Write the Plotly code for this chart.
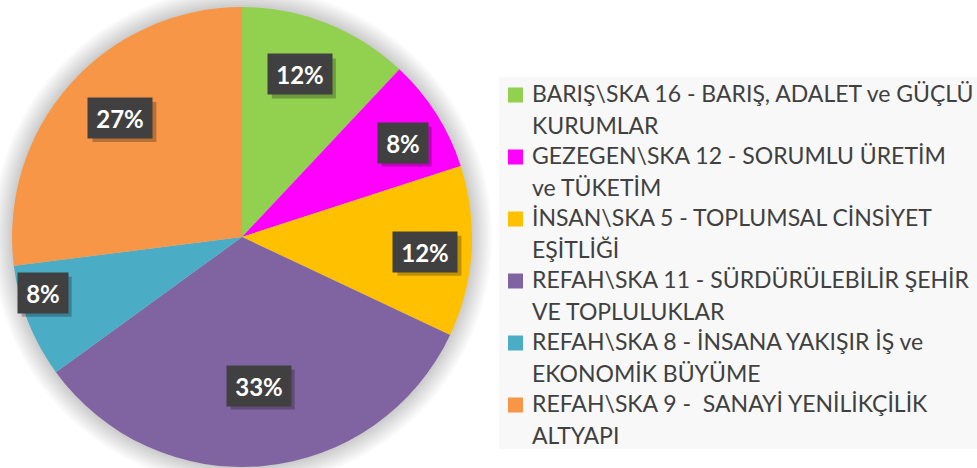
import math
import plotly.graph_objects as go

# ---- data ----
categories = [
    "BARIŞ\\SKA 16 - BARIŞ, ADALET ve GÜÇLÜ<br>KURUMLAR",
    "GEZEGEN\\SKA 12 - SORUMLU ÜRETİM<br>ve TÜKETİM",
    "İNSAN\\SKA 5 - TOPLUMSAL CİNSİYET<br>EŞİTLİĞİ",
    "REFAH\\SKA 11 - SÜRDÜRÜLEBİLİR ŞEHİR<br>VE TOPLULUKLAR",
    "REFAH\\SKA 8 - İNSANA YAKIŞIR İŞ ve<br>EKONOMİK BÜYÜME",
    "REFAH\\SKA 9 -  SANAYİ YENİLİKÇİLİK<br>ALTYAPI",
]
values = [12, 8, 12, 33, 8, 27]

# ---- style ----
colors = ["#92D050", "#FF00FF", "#FFC000", "#8064A2", "#4BACC6", "#F79646"]
label_radius = [0.75, 0.81, 0.80, 0.65, 0.90, 0.74]   # fraction of pie radius
label_turn = [-2, 2, 1, -1, 6, 3]                      # small angular nudge, degrees

W, H = 977, 468
cx, cy, R = 242, 237, 230          # pie centre / radius in pixels
text_color = "#404040"
font_family = "Lato, 'Open Sans', sans-serif"
box_h = 40                          # label box height, px
box_pad = 6


def px(x):
    return x / W


def py(y):
    return 1 - y / H


fig = go.Figure()
fig.add_trace(go.Pie(
    labels=[c.replace("<br>", " ") for c in categories],
    values=values,
    sort=False,
    direction="clockwise",
    rotation=0,
    marker=dict(colors=colors, line=dict(width=0)),
    textinfo="none",
    hoverinfo="label+percent",
    showlegend=False,
    domain=dict(x=[px(cx - R), px(cx + R)], y=[py(cy + R), py(cy - R)]),
))

shapes = []
# soft glow around the pie
for k in range(2, 22, 2):
    shapes.append(dict(
        type="circle", xref="paper", yref="paper", layer="below",
        x0=px(cx - R - k), x1=px(cx + R + k), y0=py(cy + R + k), y1=py(cy - R - k),
        fillcolor="rgba(0,0,0,0.02)", line=dict(width=0),
    ))

# legend panel
shapes.append(dict(
    type="rect", xref="paper", yref="paper", layer="below",
    x0=px(499), x1=1.0, y0=py(449), y1=py(77),
    fillcolor="#F8F8F8", line=dict(width=0),
))

annotations = []
total = sum(values)
cum = 0
for i, v in enumerate(values):
    mid = (cum + v / 2) / total * 360 + label_turn[i]
    cum += v
    r = R * label_radius[i]
    lx = cx + r * math.sin(math.radians(mid))
    ly = cy - r * math.cos(math.radians(mid))
    pct = f"{v / total * 100:.0f}%"
    bw = 14 * len(pct) + 22         # label box width, px
    # drop shadow under the label box
    shapes.append(dict(
        type="rect", xref="paper", yref="paper", layer="above",
        x0=px(lx - bw / 2 + 4), x1=px(lx + bw / 2 + 4),
        y0=py(ly + box_h / 2 + 4), y1=py(ly - box_h / 2 + 4),
        fillcolor="rgba(0,0,0,0.25)", line=dict(width=0),
    ))
    annotations.append(dict(
        x=px(lx), y=py(ly), xref="paper", yref="paper",
        xanchor="center", yanchor="middle",
        text=f"<b>{pct}</b>", showarrow=False,
        width=bw - 2 * box_pad, height=box_h - 2 * box_pad,
        font=dict(family=font_family, size=24, color="white"),
        bgcolor="#404040", borderpad=box_pad,
    ))

# legend entries
for i, name in enumerate(categories):
    y0 = 92 + 62 * i
    shapes.append(dict(
        type="rect", xref="paper", yref="paper",
        x0=px(508), x1=px(523), y0=py(y0 + 3 + 7.5), y1=py(y0 + 3 - 7.5),
        fillcolor=colors[i], line=dict(width=0),
    ))
    for j, line in enumerate(name.split("<br>")):
        annotations.append(dict(
            x=px(530), y=py(y0 + 32 * j + 1), xref="paper", yref="paper",
            xanchor="left", yanchor="middle", text=line, showarrow=False,
            font=dict(family=font_family, size=23, color=text_color),
        ))

fig.update_layout(
    width=W, height=H,
    margin=dict(l=0, r=0, t=0, b=0),
    paper_bgcolor="white",
    plot_bgcolor="white",
    shapes=shapes,
    annotations=annotations,
)

fig.write_html("out.html")
